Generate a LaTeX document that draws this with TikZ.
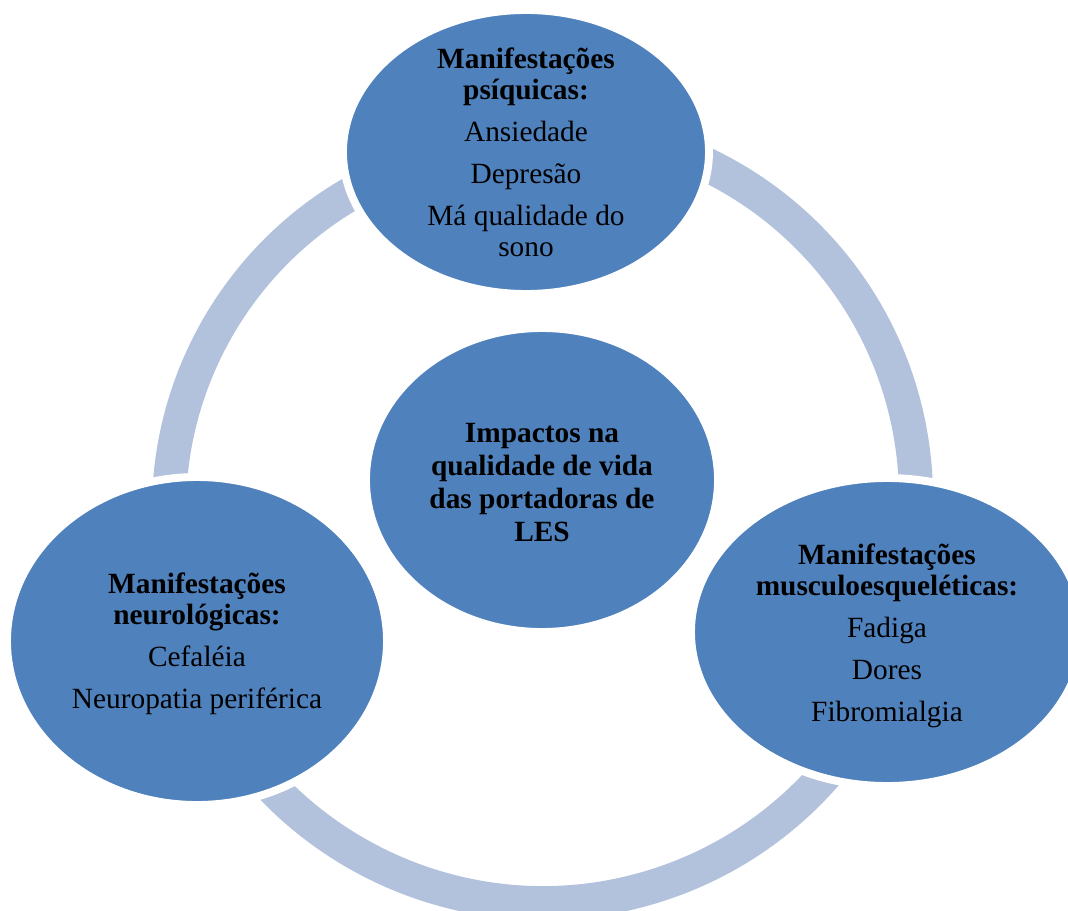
\documentclass[tikz,border=0pt]{standalone}
\usepackage{fontspec}
\setmainfont{Liberation Serif}
\usetikzlibrary{shapes.geometric}
\definecolor{bubblefill}{RGB}{79,129,189}
\definecolor{ringfill}{RGB}{178,193,220}
\tikzset{
    bubble/.style n args={2}{
        ellipse, draw=white, line width=4.5pt, fill=bubblefill,
        inner sep=0pt, minimum width=#1, minimum height=#2
    },
    txt/.style={
        align=center, text=black, inner sep=0pt,
        font=\fontsize{16.7}{17.6}\selectfont
    },
    ringline/.style={draw=ringfill, line width=0.68cm}
}

\begin{document}
\begin{tikzpicture}

    \useasboundingbox (0,0) rectangle (21.36,-18.22);
    \clip (0,0) rectangle (21.36,-18.22);

    % Cycle arcs, each ending under a bubble
    \coordinate (lefthub) at (10.70,-10.20);
    \coordinate (righthub) at (10.92,-9.96);
    \coordinate (lowhub) at (10.86,-10.56);
    \draw[ringline] (lefthub) ++(105:7.32) arc[start angle=105, end angle=190, radius=7.32];
    \draw[ringline] (righthub) ++(-20:7.40) arc[start angle=-20, end angle=75, radius=7.40];
    \draw[ringline] (lowhub) ++(200:7.50) arc[start angle=200, end angle=340, radius=7.50];

    % Bubbles
    \node[bubble={7.32cm}{5.68cm}] (psiq) at (10.52,-3.04) {};
    \node[bubble={7.04cm}{6.08cm}] (impact) at (10.84,-9.60) {};
    \node[bubble={7.60cm}{6.56cm}] (neuro) at (3.94,-12.82) {};
    \node[bubble={7.84cm}{6.16cm}] (musc) at (17.74,-12.64) {};

    % Texts
    \node[txt] (psiqtxt) at (psiq) {\textbf{Manifestações}\\\textbf{psíquicas:}\\[6.3pt]
        Ansiedade\\[6.3pt]Depresão\\[6.3pt]Má qualidade do\\sono};
    \node[txt, font=\fontsize{16.7}{18.8}\selectfont, yshift=-0.05cm] (impacttxt) at (impact)
        {\textbf{Impactos na}\\\textbf{qualidade de vida}\\\textbf{das portadoras de}\\\textbf{LES}};
    \node[txt, yshift=-0.06cm] (neurotxt) at (neuro) {\textbf{Manifestações}\\\textbf{neurológicas:}\\[6.3pt]
        Cefaléia\\[6.3pt]Neuropatia periférica};
    \node[txt, yshift=-0.08cm] (musctxt) at (musc) {\textbf{Manifestações}\\\textbf{musculoesqueléticas:}\\[6.3pt]
        Fadiga\\[6.3pt]Dores\\[6.3pt]Fibromialgia};

\end{tikzpicture}
\end{document}
